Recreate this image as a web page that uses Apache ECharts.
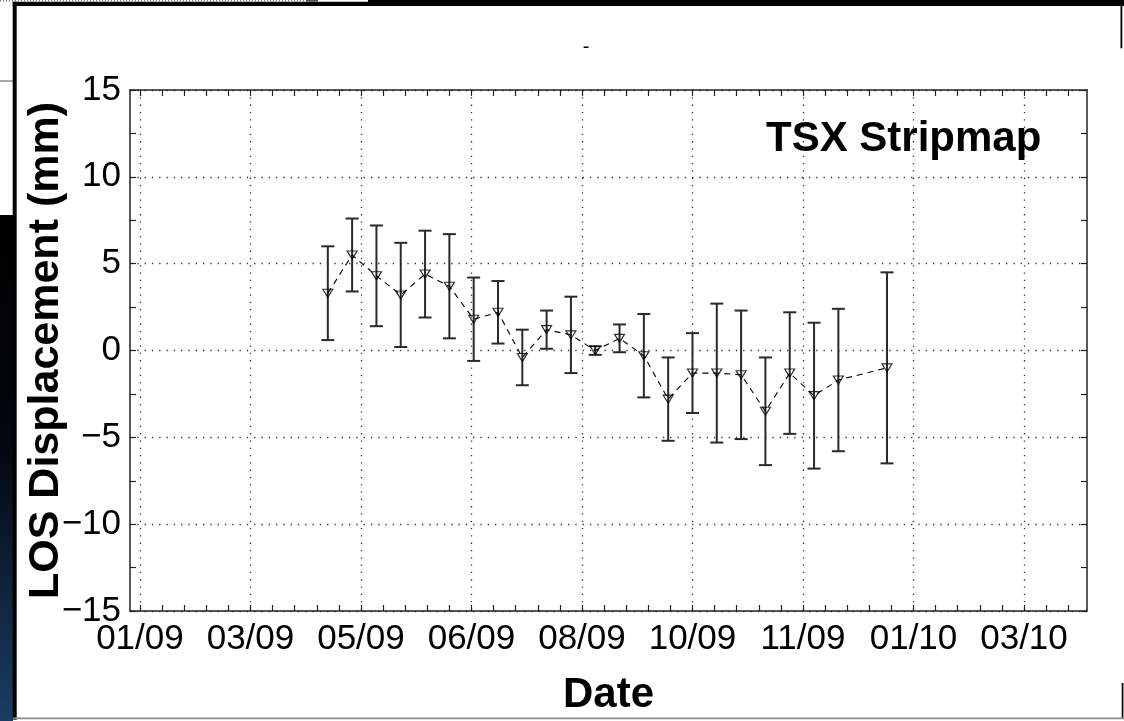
<!DOCTYPE html>
<html>
<head>
<meta charset="utf-8">
<title>TSX Stripmap LOS displacement</title>
<script src="https://cdn.jsdelivr.net/npm/echarts@6/dist/echarts.min.js"></script>
<style>
  html, body { margin: 0; padding: 0; background: #ffffff; }
  #chart { width: 1124px; height: 721px; }
</style>
</head>
<body>
<div id="chart"></div>
<script>
// Acquisition dates (TerraSAR-X stripmap, 11-day repeat)
const acqDates = [
  '2009-04-22', '2009-05-03', '2009-05-14', '2009-05-25', '2009-06-05',
  '2009-06-16', '2009-06-27', '2009-07-08', '2009-07-19', '2009-07-30',
  '2009-08-10', '2009-08-21', '2009-09-01', '2009-09-12', '2009-09-23',
  '2009-10-04', '2009-10-15', '2009-10-26', '2009-11-06', '2009-11-17',
  '2009-11-28', '2009-12-09', '2009-12-31'
];
// LOS displacement (mm)
const losDisp = [
  3.3, 5.5, 4.3, 3.2, 4.4,
  3.7, 1.8, 2.2, -0.4, 1.2,
  0.9, 0.0, 0.7, -0.3, -2.8,
  -1.3, -1.3, -1.4, -3.5, -1.3,
  -2.6, -1.7, -1.0
];
// one-sigma uncertainty (mm)
const losErr = [
  2.7, 2.1, 2.9, 3.0, 2.5,
  3.0, 2.4, 1.8, 1.6, 1.1,
  2.2, 0.25, 0.8, 2.4, 2.4,
  2.3, 4.0, 3.7, 3.1, 3.5,
  4.2, 4.1, 5.5
];
// labelled date ticks (50-day spacing) and their labels
const tickDates = [
  '2009-01-27', '2009-03-18', '2009-05-07', '2009-06-26', '2009-08-15',
  '2009-10-04', '2009-11-23', '2010-01-12', '2010-03-03'
];
const tickLabels = ['01/09', '03/09', '05/09', '06/09', '08/09', '10/09', '11/09', '01/10', '03/10'];
const xRange = ['2009-01-22T12:00:00Z', '2010-03-31T12:00:00Z'];
const yRange = [-15, 15];
const yStep = 5;

const DAY = 86400000;
const toMs = s => Date.parse(s.length === 10 ? s + 'T00:00:00Z' : s);
const xMin = toMs(xRange[0]);
const xMax = toMs(xRange[1]);
const majorTicks = tickDates.map(toMs);
// small ticks every 10 days along the date axis
const allTicks = [];
for (let t = majorTicks[0]; t <= xMax; t += 10 * DAY) allTicks.push(t);

const FONT = '"Liberation Sans", Arial, Helvetica, sans-serif';
const AXIS_COLOR = '#222';
const gridDots = { color: '#333', width: 1.3, type: [1.3, 6] };

const pts = acqDates.map((d, i) => [toMs(d), losDisp[i]]);
const bars = acqDates.map((d, i) => [toMs(d), losDisp[i], losErr[i]]);

const chart = echarts.init(document.getElementById('chart'), null, { renderer: 'canvas' });

const baseX = {
  type: 'value', min: xMin, max: xMax, scale: true,
  axisLine: { show: true, onZero: false, lineStyle: { color: AXIS_COLOR, width: 1.5 } },
  axisTick: { show: true, inside: true, length: 6, customValues: allTicks,
              lineStyle: { color: AXIS_COLOR, width: 1.2 } },
  splitLine: { show: false }
};
const baseY = {
  type: 'value', min: yRange[0], max: yRange[1], interval: yStep,
  axisLine: { show: true, onZero: false, lineStyle: { color: AXIS_COLOR, width: 1.5 } },
  axisTick: { show: true, inside: true, length: 6, lineStyle: { color: AXIS_COLOR, width: 1.2 } },
  minorTick: { show: true, splitNumber: 2, length: 6, lineStyle: { color: AXIS_COLOR, width: 1.2 } },
  splitLine: { show: false }
};

chart.setOption({
  animation: false,
  backgroundColor: '#ffffff',
  grid: { left: 130, top: 90, width: 957, height: 521, containLabel: false },
  xAxis: [
    Object.assign({}, baseX, {
      position: 'bottom',
      name: 'Date', nameLocation: 'middle', nameGap: 63, nameMoveOverlap: false,
      nameTextStyle: { fontFamily: FONT, fontSize: 42, fontWeight: 'bold', color: '#000' },
      axisLabel: {
        show: true, margin: 11, customValues: majorTicks,
        fontFamily: FONT, fontSize: 35, color: '#000',
        formatter: v => { const i = majorTicks.indexOf(v); return i >= 0 ? tickLabels[i] : ''; }
      }
    }),
    Object.assign({}, baseX, { position: 'top', axisLabel: { show: false } }),
    {
      type: 'value', min: xMin, max: xMax, position: 'bottom',
      axisLine: { show: false }, axisLabel: { show: false },
      axisTick: { show: false, customValues: majorTicks },
      splitLine: { show: true, lineStyle: gridDots }
    }
  ],
  yAxis: [
    Object.assign({}, baseY, {
      position: 'left',
      name: 'LOS Displacement (mm)', nameLocation: 'middle', nameGap: 62, nameRotate: 90,
      nameMoveOverlap: false,
      nameTextStyle: { fontFamily: FONT, fontSize: 43, fontWeight: 'bold', color: '#000' },
      axisLabel: {
        show: true, margin: 9, fontFamily: FONT, fontSize: 35, color: '#000',
        formatter: v => (v < 0 ? '\u2212' + Math.abs(v) : String(v))
      },
      splitLine: { show: true, lineStyle: gridDots }
    }),
    Object.assign({}, baseY, { position: 'right', axisLabel: { show: false } })
  ],
  graphic: [
    // surrounding frame
    { type: 'rect', z: -10, shape: { x: 0, y: 215, width: 13, height: 506 },
      style: { fill: new echarts.graphic.LinearGradient(0, 0, 0, 1, [
        { offset: 0, color: '#000000' }, { offset: 0.45, color: '#02070e' }, { offset: 1, color: '#1b3d63' }]) } },
    { type: 'rect', z: -10, shape: { x: 0, y: 80.5, width: 13, height: 1 }, style: { fill: '#555' } },
    { type: 'rect', z: -10, shape: { x: 12.7, y: 1.7, width: 4, height: 718 }, style: { fill: '#000' } },
    { type: 'rect', z: -10, shape: { x: 12.7, y: 1.7, width: 1112, height: 4.3 }, style: { fill: '#000' } },
    { type: 'rect', z: -10, shape: { x: 368, y: 0, width: 756, height: 6 }, style: { fill: '#000' } },
    { type: 'line', z: -10, shape: { x1: 0, y1: 0.8, x2: 306, y2: 0.8 },
      style: { stroke: '#777', lineWidth: 1.6, lineDash: [1, 2] } },
    { type: 'rect', z: -10, shape: { x: 306, y: 0, width: 12, height: 1.7 }, style: { fill: '#555' } },
    { type: 'rect', z: -10, shape: { x: 1120.5, y: 6, width: 1.8, height: 42.3 }, style: { fill: '#000' } },
    { type: 'rect', z: -10, shape: { x: 1121.7, y: 683, width: 1.7, height: 35 }, style: { fill: '#000' } },
    { type: 'rect', z: -10, shape: { x: 13, y: 717.6, width: 1111, height: 1.6 }, style: { fill: '#8a8a8a' } },
    // texts
    { type: 'text', x: 586, y: 47,
      style: { text: '-', font: '20px ' + FONT, fill: '#000', align: 'center', verticalAlign: 'middle' } },
    { type: 'text', x: 766, y: 118,
      style: { text: 'TSX Stripmap', font: 'bold 42px ' + FONT, fill: '#000', align: 'left', verticalAlign: 'top' } }
  ],
  series: [
    {
      type: 'custom', name: 'error', xAxisIndex: 0, yAxisIndex: 0,
      data: bars, encode: { x: 0, y: 1 }, clip: false, z: 3,
      renderItem: (params, api) => {
        const x = api.value(0), y = api.value(1), e = api.value(2);
        const top = api.coord([x, y + e]);
        const bot = api.coord([x, y - e]);
        const cap = 6.5;
        const st = { stroke: '#2a2a2a', lineWidth: 2 };
        return {
          type: 'group',
          children: [
            { type: 'line', shape: { x1: top[0], y1: top[1], x2: bot[0], y2: bot[1] }, style: st },
            { type: 'line', shape: { x1: top[0] - cap, y1: top[1], x2: top[0] + cap, y2: top[1] }, style: st },
            { type: 'line', shape: { x1: bot[0] - cap, y1: bot[1], x2: bot[0] + cap, y2: bot[1] }, style: st }
          ]
        };
      }
    },
    {
      type: 'line', name: 'LOS', xAxisIndex: 0, yAxisIndex: 0,
      data: pts, showSymbol: false, symbol: 'none', z: 4,
      lineStyle: { color: '#000', width: 1.1, type: [6, 5] }
    },
    {
      type: 'scatter', name: 'LOS markers', xAxisIndex: 0, yAxisIndex: 0,
      data: pts, symbol: 'triangle', symbolRotate: 180, symbolSize: [10, 8], z: 5,
      itemStyle: { color: 'rgba(255,255,255,0)', borderColor: '#000', borderWidth: 1.2 }
    }
  ]
});
</script>
</body>
</html>
